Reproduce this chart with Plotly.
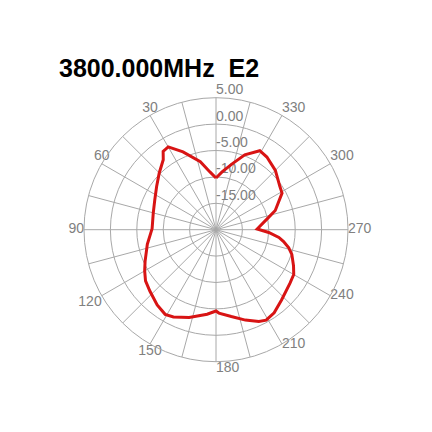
import plotly.graph_objects as go

title_text = "3800.000MHz\u00a0\u00a0E2"

angles = [0, 6, 13, 23, 30, 34, 37, 45, 54, 64, 75, 89, 102, 114, 120, 126, 133,
          142, 149, 154, 163, 174, 180, 182, 190, 198, 205, 209, 215, 223, 234,
          240, 245, 252, 256, 260, 263, 267, 271, 282, 288, 299, 304, 315, 325,
          331, 339, 346, 354, 360]
gain_db = [-10.2, -9.0, -6.8, -4.0, -1.9, -2.1, -3.4, -4.8, -6.1, -7.1, -7.7, -7.9,
           -6.7, -5.3, -4.4, -3.5, -2.9, -1.9, -1.3, -1.6, -2.6, -3.9, -4.6, -4.2,
           -3.3, -2.0, -0.8, -0.4, -0.8, -1.8, -2.7, -3.0, -3.8, -4.9, -5.8, -7.0,
           -8.0, -10.0, -12.2, -10.1, -8.2, -5.7, -5.4, -4.1, -3.2, -2.9, -4.8,
           -7.1, -9.0, -10.2]

radial_ticks = [-15, -10, -5, 0, 5]
radial_labels = ["-15.00", "-10.00", "-5.00", "0.00", "5.00"]
angle_ticks = list(range(30, 360, 30))
angle_labels = [str(a) for a in angle_ticks]
angle_label_pos = ["top center", "top center", "middle left", "bottom left",
                   "bottom center", "bottom right", "middle right", "middle right",
                   "middle right", "top right", "top right"]
spoke_angles = list(range(15, 360, 30))

W = H = 432
OFF = 8  # page body margin

def px_x(x):
    return (x - OFF) / W

def px_y(y):
    return 1 - (y - OFF) / H

grid = "#a8a8a8"
label_font = dict(family="Arial", size=14, color="#808080")

fig = go.Figure()
for a in spoke_angles:
    fig.add_trace(go.Scatterpolar(
        r=[-20, 5], theta=[a, a], mode="lines",
        line=dict(color=grid, width=1), showlegend=False, hoverinfo="skip",
    ))
fig.add_trace(go.Scatterpolar(
    r=radial_ticks, theta=[0] * len(radial_ticks), mode="text",
    text=radial_labels, textposition="top right",
    textfont=label_font, showlegend=False, hoverinfo="skip", cliponaxis=False,
))
fig.add_trace(go.Scatterpolar(
    r=[5] * len(angle_ticks), theta=angle_ticks, mode="text",
    text=angle_labels, textposition=angle_label_pos,
    textfont=label_font, showlegend=False, hoverinfo="skip", cliponaxis=False,
))
fig.add_trace(go.Scatterpolar(
    r=gain_db, theta=angles, mode="lines",
    line=dict(color="#d81414", width=3),
    showlegend=False, hoverinfo="skip",
))

fig.update_layout(
    width=W, height=H,
    margin=dict(l=0, r=0, t=0, b=0),
    paper_bgcolor="white", plot_bgcolor="white",
    showlegend=False,
    polar=dict(
        domain=dict(x=[px_x(84), px_x(348)], y=[px_y(361.7), px_y(97.7)]),
        bgcolor="white",
        radialaxis=dict(
            range=[-20, 5], tickvals=radial_ticks,
            angle=90, showticklabels=False,
            showline=False, gridcolor=grid, gridwidth=1, ticks="",
        ),
        angularaxis=dict(
            rotation=90, direction="counterclockwise",
            tickmode="array", tickvals=list(range(0, 360, 30)),
            showticklabels=False,
            showline=True, linecolor=grid, linewidth=1,
            gridcolor=grid, gridwidth=1, ticks="",
        ),
    ),
    annotations=[dict(
        text="<b>" + title_text + "</b>", x=px_x(57), y=px_y(68),
        xref="paper", yref="paper", xanchor="left", yanchor="middle",
        showarrow=False, font=dict(family="Arial", size=25, color="black"),
    )],
)

fig.write_html("out.html")
